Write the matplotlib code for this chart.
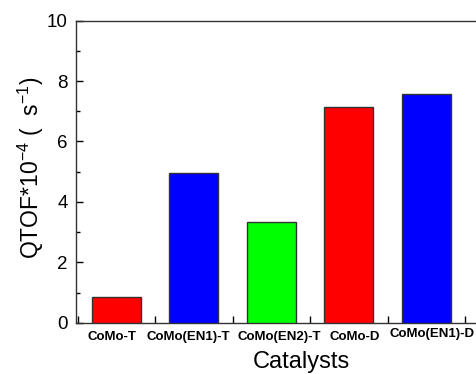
import matplotlib
matplotlib.use("Agg")
import matplotlib.pyplot as plt
import matplotlib.transforms as mtransforms
import numpy as np

categories = ["CoMo-T", "CoMo(EN1)-T", "CoMo(EN2)-T", "CoMo-D", "CoMo(EN1)-D"]
values = [0.84, 4.95, 3.33, 7.15, 7.57]
colors = ["#FF0000", "#0000FF", "#00FF00", "#FF0000", "#0000FF"]

plt.rcParams['font.family'] = ['Liberation Sans', 'Noto Sans CJK SC', 'DejaVu Sans']
plt.rcParams['mathtext.fontset'] = 'custom'
plt.rcParams['mathtext.rm'] = 'Liberation Sans'
plt.rcParams['mathtext.it'] = 'Liberation Sans'

W, H = 476, 374
fig = plt.figure(figsize=(W/100, H/100), dpi=100)
left = 76 / W
bottom = (H - 322.7) / H
height = (322.7 - 20.7) / H
n_slots = 6.1
px_per_cat = 77.5
width = n_slots * px_per_cat / W
ax = fig.add_axes([left, bottom, width, height])

x = np.arange(len(categories))
ax.bar(x, values, width=0.63, color=colors, edgecolor="#333333", linewidth=1.0, zorder=3)

ax.set_xlim(-0.52, -0.52 + n_slots)
ax.set_ylim(0, 10)

ax.set_xticks(x)
ax.set_xticklabels(categories, fontsize=9.5, fontweight='bold')
ax.set_xticks(np.arange(-0.5, 6, 1.0), minor=True)
ax.tick_params(axis='x', which='major', length=0, pad=6)
ax.tick_params(axis='x', which='minor', direction='in', length=5, width=1)

# label offsets (points) mimicking the original placement
label_shift = [(-3.5, 0), (-4, 0), (5.5, 0), (4.5, 0), (4, 2)]
for lab, (dx, dy) in zip(ax.get_xticklabels(), label_shift):
    lab.set_transform(lab.get_transform() + mtransforms.ScaledTranslation(dx/72, dy/72, fig.dpi_scale_trans))

ax.set_yticks([0, 2, 4, 6, 8, 10])
ax.set_yticks([1, 3, 5, 7, 9], minor=True)
ax.tick_params(axis='y', which='major', direction='in', length=5, width=1, labelsize=13.5, pad=6)
ax.tick_params(axis='y', which='minor', direction='in', length=3, width=1)

for s in ax.spines.values():
    s.set_linewidth(1.0)
    s.set_color("#333333")

fig.text(301 / W, 1 - 362 / H, "Catalysts", fontsize=17, ha='center', va='center')
fig.text(31 / W, 1 - 168 / H, "QTOF*10$^{-4}$ (  s$^{-1}$)", rotation=90,
         fontsize=16.5, ha='center', va='center')

fig.savefig("out.png", dpi=100)
